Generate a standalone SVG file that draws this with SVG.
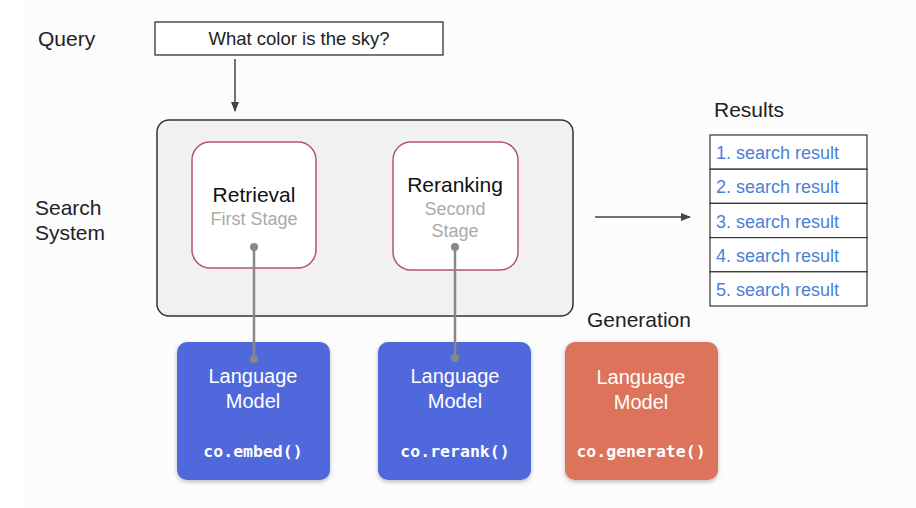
<svg xmlns="http://www.w3.org/2000/svg" width="916" height="508" viewBox="0 0 916 508">
<defs>
<marker id="ah" markerWidth="10" markerHeight="10" refX="9" refY="5" orient="auto" markerUnits="userSpaceOnUse">
<path d="M0,1 L10,5 L0,9 Z" fill="#444"/>
</marker>
<filter id="sh" x="-10%" y="-10%" width="120%" height="125%">
<feDropShadow dx="0" dy="2" stdDeviation="2" flood-color="#000" flood-opacity="0.25"/>
</filter>
</defs>
<style>
text{font-family:"Liberation Sans",Arial,sans-serif;}
.lbl{font-size:21px;fill:#222;}
.stage{fill:#fff;stroke:#b3566a;stroke-width:1.5;}
.sub{font-size:18px;fill:#aaa;text-anchor:middle;}
.ttl{font-size:21px;fill:#111;text-anchor:middle;}
.lm{font-size:20px;fill:#fff;text-anchor:middle;}
.code{font-family:"DejaVu Sans Mono","Liberation Mono",monospace;font-size:16.5px;font-weight:bold;fill:#fff;text-anchor:middle;}
.res{font-size:18px;fill:#4a7fd6;}
.cell{fill:#fff;stroke:#333;stroke-width:1.2;}
.conn{stroke:#888;stroke-width:2.5;fill:none;}
.dot{fill:#888;}
</style>
<rect x="0" y="0" width="916" height="508" fill="#ffffff"/>
<rect x="24" y="0" width="892" height="508" fill="#fcfcfc"/>

<g id="query-label"><text class="lbl" x="38" y="46">Query</text></g>
<g id="query">
<rect x="155" y="22" width="288" height="33" fill="#fff" stroke="#333" stroke-width="1.3"/>
<text x="299" y="45" font-size="18.5" fill="#222" text-anchor="middle">What color is the sky?</text>
</g>

<g id="search-label"><text class="lbl" x="35" y="215">Search</text><text class="lbl" x="35" y="240">System</text></g>
<g id="search-system">
<rect x="157" y="120" width="416" height="196" rx="12" fill="#f1f1f1" stroke="#333" stroke-width="1.5"/>
</g>
<g id="retrieval">
<rect class="stage" x="192" y="142" width="124" height="126" rx="18"/>
<text class="ttl" x="254" y="202">Retrieval</text>
<text class="sub" x="254" y="225">First Stage</text>
</g>
<g id="reranking">
<rect class="stage" x="393" y="142" width="125" height="128" rx="18"/>
<text class="ttl" x="455" y="192">Reranking</text>
<text class="sub" x="455" y="215">Second</text>
<text class="sub" x="455" y="237">Stage</text>
</g>

<g id="lm-embed">
<rect x="177" y="342" width="153" height="138" rx="10" fill="#5068dc" filter="url(#sh)"/>
<text class="lm" x="253" y="383">Language</text>
<text class="lm" x="253" y="408">Model</text>
<text class="code" x="253" y="457">co.embed()</text>
</g>
<g id="lm-rerank">
<rect x="378" y="342" width="153" height="138" rx="10" fill="#5068dc" filter="url(#sh)"/>
<text class="lm" x="455" y="383">Language</text>
<text class="lm" x="455" y="408">Model</text>
<text class="code" x="455" y="457">co.rerank()</text>
</g>
<g id="generation-label"><text class="lbl" x="587" y="327">Generation</text></g>
<g id="lm-generate">
<rect x="565" y="342" width="153" height="138" rx="10" fill="#dc735a" filter="url(#sh)"/>
<text class="lm" x="641" y="384">Language</text>
<text class="lm" x="641" y="409">Model</text>
<text class="code" x="641" y="457">co.generate()</text>
</g>

<g id="results-label"><text class="lbl" x="714" y="117">Results</text></g>
<g id="results">
<rect class="cell" x="710" y="135" width="157" height="34.2"/>
<rect class="cell" x="710" y="169.2" width="157" height="34.2"/>
<rect class="cell" x="710" y="203.4" width="157" height="34.2"/>
<rect class="cell" x="710" y="237.6" width="157" height="34.2"/>
<rect class="cell" x="710" y="271.8" width="157" height="34.2"/>
<text class="res" x="716" y="159">1. search result</text>
<text class="res" x="716" y="193">2. search result</text>
<text class="res" x="716" y="228">3. search result</text>
<text class="res" x="716" y="262">4. search result</text>
<text class="res" x="716" y="296">5. search result</text>
</g>

<g id="connectors">
<line x1="235" y1="59" x2="235" y2="111" stroke="#444" stroke-width="1.5" marker-end="url(#ah)"/>
<line x1="595" y1="217" x2="690" y2="217" stroke="#444" stroke-width="1.5" marker-end="url(#ah)"/>
<line class="conn" x1="254" y1="247" x2="254" y2="359"/>
<circle class="dot" cx="254" cy="247" r="4"/>
<circle class="dot" cx="254" cy="359" r="4"/>
<line class="conn" x1="455" y1="247" x2="455" y2="358"/>
<circle class="dot" cx="455" cy="247" r="4"/>
<circle class="dot" cx="455" cy="358" r="4"/>
</g>
</svg>
